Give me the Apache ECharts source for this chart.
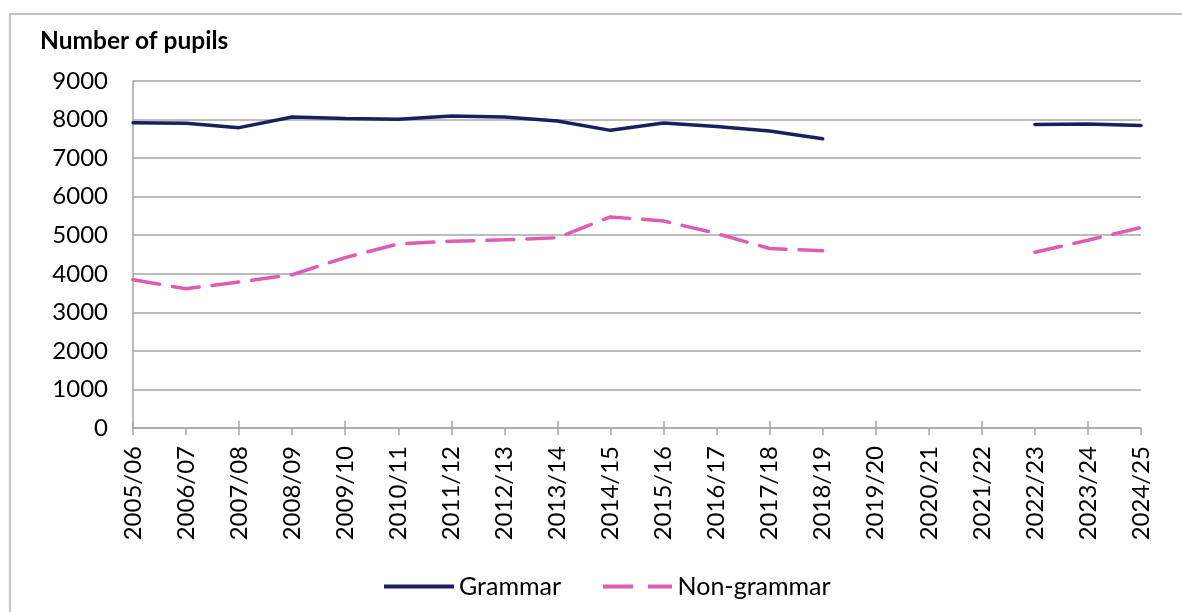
<!DOCTYPE html>
<html>
<head>
<meta charset="utf-8">
<script src="https://cdn.jsdelivr.net/npm/echarts@6/dist/echarts.min.js"></script>
<style>
  html, body { margin: 0; padding: 0; background: #fff; }
  #chart { width: 1182px; height: 612px; }
</style>
</head>
<body>
<div id="chart"></div>
<script>
// school years on the x axis
const years = [
  '2005/06', '2006/07', '2007/08', '2008/09', '2009/10', '2010/11', '2011/12',
  '2012/13', '2013/14', '2014/15', '2015/16', '2016/17', '2017/18', '2018/19',
  '2019/20', '2020/21', '2021/22', '2022/23', '2023/24', '2024/25'
];

// no data for 2019/20 - 2021/22
const grammar = [
  7920, 7905, 7790, 8065, 8025, 8005, 8090, 8065, 7965, 7720,
  7910, 7820, 7705, 7500, null, null, null, 7870, 7885, 7845
];

const nonGrammar = [
  3845, 3610, 3790, 3975, 4420, 4775, 4845, 4880, 4935, 5475,
  5370, 5045, 4655, 4595, null, null, null, 4560, 4870, 5200
];

const yTicks = { min: 0, max: 9000, interval: 1000 };

const font = 'Lato, "Open Sans", sans-serif';
const gridColor = '#a6a6a6';
const navy = '#1b1f5e';
const pink = '#df5cb2';

const chart = echarts.init(document.getElementById('chart'), null, { renderer: 'canvas' });

// category axis shared bits; the second copy only draws the upper half of the ticks
const baseX = {
  type: 'category',
  data: years,
  boundaryGap: false,
  position: 'bottom',
  splitLine: { show: false }
};

chart.setOption({
  animation: false,
  textStyle: { fontFamily: font },
  graphic: [{
    type: 'rect',
    shape: { x: 10, y: 14, width: 1300, height: 700 },
    style: { fill: 'none', stroke: '#b0b0b0', lineWidth: 1.5 },
    silent: true
  }],
  title: {
    text: 'Number of pupils',
    left: 35,
    top: 24,
    textStyle: { fontFamily: font, fontSize: 24.5, fontWeight: 'bold', color: '#000' }
  },
  grid: { left: 133, right: 41, top: 81, bottom: 184, containLabel: false },
  legend: {
    left: 384,
    top: 574,
    padding: 0,
    itemWidth: 70,
    itemHeight: 4,
    itemGap: 42,
    textStyle: { fontFamily: font, fontSize: 25, color: '#000' },
    data: [
      { name: 'Grammar', icon: 'path://M0,0H70V4H0Z' },
      { name: 'Non-grammar', icon: 'path://M0,0H30V4H0ZM45,0H69V4H45Z' }
    ]
  },
  xAxis: [
    Object.assign({}, baseX, {
      axisLine: { lineStyle: { color: gridColor, width: 1.5 } },
      axisTick: { show: true, inside: false, length: 7, lineStyle: { color: gridColor, width: 1.5 } },
      axisLabel: {
        rotate: 90,
        interval: 0,
        margin: 18,
        fontFamily: font,
        fontSize: 24,
        color: '#000'
      }
    }),
    Object.assign({}, baseX, {
      axisLine: { show: false },
      axisTick: { show: true, inside: true, length: 7, lineStyle: { color: gridColor, width: 1.5 } },
      axisLabel: { show: false }
    })
  ],
  yAxis: {
    type: 'value',
    min: yTicks.min,
    max: yTicks.max,
    interval: yTicks.interval,
    axisLine: { show: true, lineStyle: { color: gridColor, width: 1.5 } },
    axisTick: { show: false },
    axisLabel: {
      margin: 25,
      fontFamily: font,
      fontSize: 24,
      color: '#000',
      formatter: v => String(v)
    },
    splitLine: { show: true, lineStyle: { color: gridColor, width: 1.5 } }
  },
  series: [
    {
      name: 'Grammar',
      type: 'line',
      xAxisIndex: 0,
      data: grammar,
      connectNulls: false,
      showSymbol: false,
      symbol: 'none',
      color: navy,
      lineStyle: { color: navy, width: 3.5, cap: 'round' }
    },
    {
      name: 'Non-grammar',
      type: 'line',
      xAxisIndex: 0,
      data: nonGrammar,
      connectNulls: false,
      showSymbol: false,
      symbol: 'none',
      color: pink,
      lineStyle: { color: pink, width: 3.5, type: [27, 13], cap: 'round' }
    }
  ]
});
</script>
</body>
</html>
